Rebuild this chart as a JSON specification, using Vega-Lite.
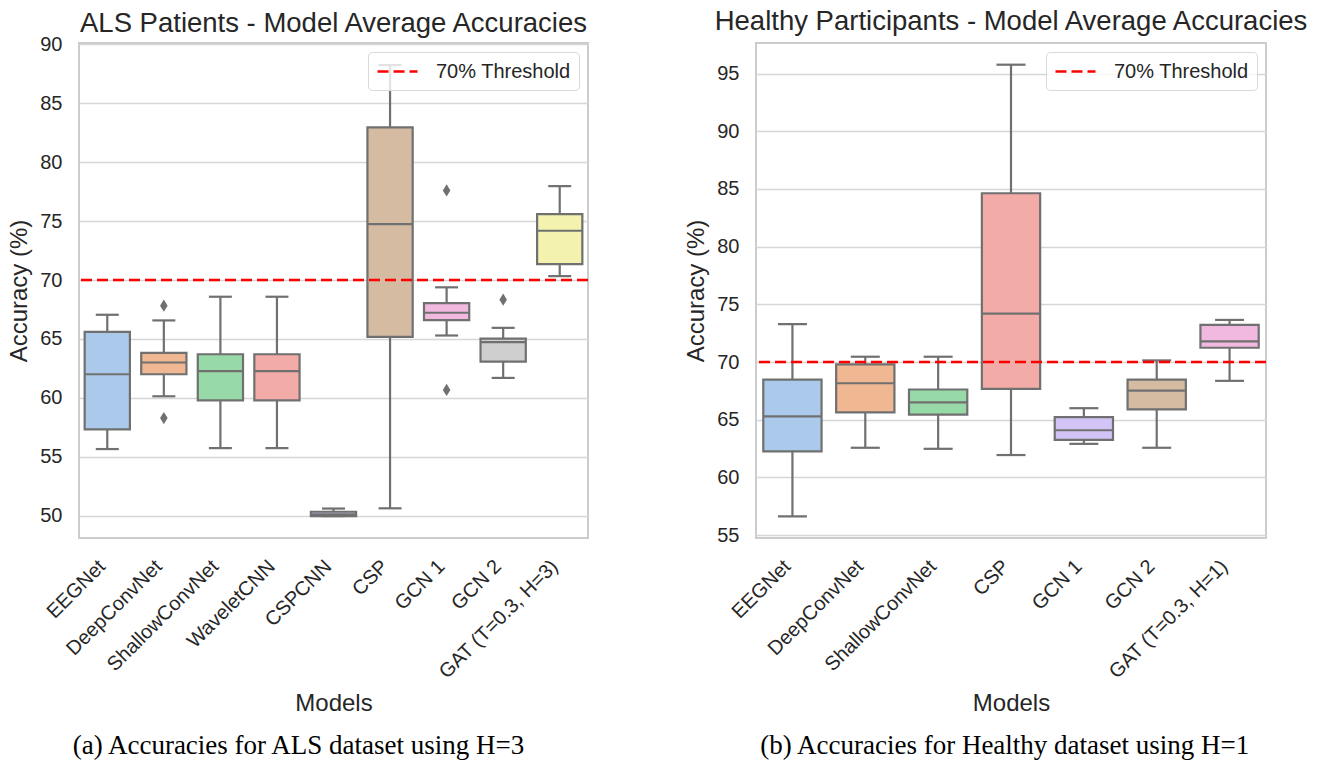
{
  "$schema": "https://vega.github.io/schema/vega-lite/v6.json",
  "padding": {"left": 6, "top": 7, "right": 5, "bottom": 5},
  "background": "white",
  "config": {
    "font": "Liberation Sans",
    "view": {"stroke": "#cccccc", "strokeWidth": 2},
    "title": {"font": "Liberation Sans", "fontSize": 27.5, "fontWeight": "normal", "color": "#262626"},
    "axis": {"labelFont": "Liberation Sans", "labelFontSize": 20, "labelColor": "#262626", "titleFont": "Liberation Sans", "titleFontSize": 24, "titleFontWeight": "normal", "titleColor": "#262626", "domain": false, "ticks": false},
    "axisX": {"labelAngle": -45, "labelAlign": "right", "labelBaseline": "middle", "labelPadding": 25, "labelOffset": -5, "titlePadding": 9, "grid": false},
    "axisY": {"labelPadding": 17, "titlePadding": 8, "grid": true, "gridColor": "#d6d6d6", "gridWidth": 1.5},
    "legend": {"orient": "top-right", "offset": 9, "padding": 8, "fillColor": "rgba(255,255,255,0.8)", "strokeColor": "#d9d9d9", "cornerRadius": 4, "labelFont": "Liberation Sans", "labelFontSize": 20, "labelColor": "#262626", "symbolType": "M-1,0H3", "symbolSize": 400, "symbolStrokeWidth": 2.5, "symbolDash": [11, 5], "labelOffset": 37, "title": null}
  },
  "datasets": {
    "als": [
      {"model": "EEGNet", "lower": 55.65, "q1": 57.32, "median": 62.0, "q3": 65.6, "upper": 67.05},
      {"model": "DeepConvNet", "lower": 60.13, "q1": 62.0, "median": 63.0, "q3": 63.82, "upper": 66.57},
      {"model": "ShallowConvNet", "lower": 55.73, "q1": 59.79, "median": 62.26, "q3": 63.7, "upper": 68.58},
      {"model": "WaveletCNN", "lower": 55.73, "q1": 59.79, "median": 62.26, "q3": 63.7, "upper": 68.58},
      {"model": "CSPCNN", "lower": 49.96, "q1": 49.96, "median": 50.1, "q3": 50.33, "upper": 50.6},
      {"model": "CSP", "lower": 50.62, "q1": 65.18, "median": 74.75, "q3": 82.95, "upper": 88.25},
      {"model": "GCN 1", "lower": 65.29, "q1": 66.6, "median": 67.22, "q3": 68.04, "upper": 69.38},
      {"model": "GCN 2", "lower": 61.69, "q1": 63.08, "median": 64.72, "q3": 65.03, "upper": 65.94},
      {"model": "GAT (T=0.3, H=3)", "lower": 70.33, "q1": 71.35, "median": 74.18, "q3": 75.6, "upper": 77.97}
    ],
    "als_out": [
      {"model": "DeepConvNet", "value": 67.82},
      {"model": "DeepConvNet", "value": 58.28},
      {"model": "GCN 1", "value": 77.6},
      {"model": "GCN 1", "value": 60.67},
      {"model": "GCN 2", "value": 68.33}
    ],
    "healthy": [
      {"model": "EEGNet", "lower": 56.63, "q1": 62.25, "median": 65.29, "q3": 68.48, "upper": 73.28},
      {"model": "DeepConvNet", "lower": 62.57, "q1": 65.64, "median": 68.16, "q3": 69.8, "upper": 70.46},
      {"model": "ShallowConvNet", "lower": 62.48, "q1": 65.44, "median": 66.5, "q3": 67.62, "upper": 70.46},
      {"model": "CSP", "lower": 61.94, "q1": 67.68, "median": 74.2, "q3": 84.63, "upper": 95.77},
      {"model": "GCN 1", "lower": 62.91, "q1": 63.26, "median": 64.09, "q3": 65.23, "upper": 66.0},
      {"model": "GCN 2", "lower": 62.57, "q1": 65.9, "median": 67.53, "q3": 68.48, "upper": 70.14},
      {"model": "GAT (T=0.3, H=1)", "lower": 68.37, "q1": 71.24, "median": 71.79, "q3": 73.22, "upper": 73.65}
    ],
    "threshold": [
      {"accuracy": 70, "label": "70% Threshold"}
    ]
  },
  "spacing": 92,
  "resolve": {"scale": {"x": "independent", "y": "independent", "fill": "independent", "stroke": "independent"}, "legend": {"stroke": "independent"}},
  "hconcat": [
    {
      "title": {"text": "(a) Accuracies for ALS dataset using H=3", "orient": "bottom", "font": "Liberation Serif", "fontSize": 27, "fontWeight": "normal", "color": "black", "offset": 17, "frame": "bounds", "anchor": "middle"},
      "resolve": {"scale": {"stroke": "independent", "fill": "independent"}, "legend": {"stroke": "independent"}},
      "vconcat": [
        {
          "width": 509,
          "height": 495,
          "title": {"text": "ALS Patients - Model Average Accuracies", "offset": -3},
          "layer": [
            {
              "data": {"name": "als"},
              "mark": {"type": "rule", "color": "#707070", "strokeWidth": 2.2},
              "encoding": {
                "x": {"field": "model", "type": "nominal", "title": "Models", "scale": {"domain": ["EEGNet", "DeepConvNet", "ShallowConvNet", "WaveletCNN", "CSPCNN", "CSP", "GCN 1", "GCN 2", "GAT (T=0.3, H=3)"], "paddingInner": 0, "paddingOuter": 0}},
                "y": {"field": "lower", "type": "quantitative", "title": "Accuracy (%)", "scale": {"domain": [48.1, 90.12], "nice": false, "zero": false}, "axis": {"values": [50, 55, 60, 65, 70, 75, 80, 85, 90]}},
                "y2": {"field": "upper"}
              }
            },
            {
              "data": {"name": "als"},
              "mark": {"type": "tick", "color": "#707070", "size": 23, "thickness": 2.2, "opacity": 1},
              "encoding": {
                "x": {"field": "model", "type": "nominal", "title": "Models"},
                "y": {"field": "lower", "type": "quantitative", "title": "Accuracy (%)"}
              }
            },
            {
              "data": {"name": "als"},
              "mark": {"type": "tick", "color": "#707070", "size": 23, "thickness": 2.2, "opacity": 1},
              "encoding": {
                "x": {"field": "model", "type": "nominal", "title": "Models"},
                "y": {"field": "upper", "type": "quantitative", "title": "Accuracy (%)"}
              }
            },
            {
              "data": {"name": "als"},
              "mark": {"type": "bar", "width": {"band": 0.8}, "stroke": "#707070", "strokeWidth": 2.2, "opacity": 1},
              "encoding": {
                "x": {"field": "model", "type": "nominal", "title": "Models"},
                "y": {"field": "q1", "type": "quantitative", "title": "Accuracy (%)"},
                "y2": {"field": "q3"},
                "fill": {"field": "model", "type": "nominal", "legend": null, "scale": {"domain": ["EEGNet", "DeepConvNet", "ShallowConvNet", "WaveletCNN", "CSPCNN", "CSP", "GCN 1", "GCN 2", "GAT (T=0.3, H=3)"], "range": ["#abc9ea", "#efb792", "#98daa7", "#f3aba8", "#d3c4f7", "#d6bba3", "#f1b9e0", "#cfcfcf", "#f3f3af"]}}
              }
            },
            {
              "data": {"name": "als"},
              "mark": {"type": "tick", "color": "#707070", "size": 45, "thickness": 2.2, "opacity": 1},
              "encoding": {
                "x": {"field": "model", "type": "nominal", "title": "Models"},
                "y": {"field": "median", "type": "quantitative", "title": "Accuracy (%)"}
              }
            },
            {
              "data": {"name": "als_out"},
              "mark": {"type": "point", "shape": "M0,-1L0.62,0L0,1L-0.62,0Z", "size": 150, "filled": true, "color": "#707070", "opacity": 1},
              "encoding": {
                "x": {"field": "model", "type": "nominal", "title": "Models"},
                "y": {"field": "value", "type": "quantitative", "title": "Accuracy (%)"}
              }
            },
            {
              "data": {"name": "threshold"},
              "mark": {"type": "rule", "strokeDash": [11, 5], "strokeWidth": 2.5},
              "encoding": {
                "y": {"field": "accuracy", "type": "quantitative", "title": "Accuracy (%)"},
                "stroke": {"field": "label", "type": "nominal", "scale": {"domain": ["70% Threshold"], "range": ["#ff0000"]}, "legend": {"orient": "top-right"}}
              }
            }
          ]
        }
      ]
    },
    {
      "title": {"text": "(b) Accuracies for Healthy dataset using H=1", "orient": "bottom", "font": "Liberation Serif", "fontSize": 27, "fontWeight": "normal", "color": "black", "offset": 17, "frame": "bounds", "anchor": "middle", "dx": 8},
      "resolve": {"scale": {"stroke": "independent", "fill": "independent"}, "legend": {"stroke": "independent"}},
      "vconcat": [
        {
          "width": 510,
          "height": 495,
          "title": {"text": "Healthy Participants - Model Average Accuracies", "offset": 7.5},
          "layer": [
            {
              "data": {"name": "healthy"},
              "mark": {"type": "rule", "color": "#707070", "strokeWidth": 2.2},
              "encoding": {
                "x": {"field": "model", "type": "nominal", "title": "Models", "scale": {"domain": ["EEGNet", "DeepConvNet", "ShallowConvNet", "CSP", "GCN 1", "GCN 2", "GAT (T=0.3, H=1)"], "paddingInner": 0, "paddingOuter": 0}},
                "y": {"field": "lower", "type": "quantitative", "title": "Accuracy (%)", "scale": {"domain": [54.75, 97.65], "nice": false, "zero": false}, "axis": {"values": [55, 60, 65, 70, 75, 80, 85, 90, 95]}},
                "y2": {"field": "upper"}
              }
            },
            {
              "data": {"name": "healthy"},
              "mark": {"type": "tick", "color": "#707070", "size": 29, "thickness": 2.2, "opacity": 1},
              "encoding": {
                "x": {"field": "model", "type": "nominal", "title": "Models"},
                "y": {"field": "lower", "type": "quantitative", "title": "Accuracy (%)"}
              }
            },
            {
              "data": {"name": "healthy"},
              "mark": {"type": "tick", "color": "#707070", "size": 29, "thickness": 2.2, "opacity": 1},
              "encoding": {
                "x": {"field": "model", "type": "nominal", "title": "Models"},
                "y": {"field": "upper", "type": "quantitative", "title": "Accuracy (%)"}
              }
            },
            {
              "data": {"name": "healthy"},
              "mark": {"type": "bar", "width": {"band": 0.8}, "stroke": "#707070", "strokeWidth": 2.2, "opacity": 1},
              "encoding": {
                "x": {"field": "model", "type": "nominal", "title": "Models"},
                "y": {"field": "q1", "type": "quantitative", "title": "Accuracy (%)"},
                "y2": {"field": "q3"},
                "fill": {"field": "model", "type": "nominal", "legend": null, "scale": {"domain": ["EEGNet", "DeepConvNet", "ShallowConvNet", "CSP", "GCN 1", "GCN 2", "GAT (T=0.3, H=1)"], "range": ["#abc9ea", "#efb792", "#98daa7", "#f3aba8", "#d3c4f7", "#d6bba3", "#f1b9e0"]}}
              }
            },
            {
              "data": {"name": "healthy"},
              "mark": {"type": "tick", "color": "#707070", "size": 58, "thickness": 2.2, "opacity": 1},
              "encoding": {
                "x": {"field": "model", "type": "nominal", "title": "Models"},
                "y": {"field": "median", "type": "quantitative", "title": "Accuracy (%)"}
              }
            },
            {
              "data": {"name": "threshold"},
              "mark": {"type": "rule", "strokeDash": [11, 5], "strokeWidth": 2.5},
              "encoding": {
                "y": {"field": "accuracy", "type": "quantitative", "title": "Accuracy (%)"},
                "stroke": {"field": "label", "type": "nominal", "scale": {"domain": ["70% Threshold"], "range": ["#ff0000"]}, "legend": {"orient": "top-right"}}
              }
            }
          ]
        }
      ]
    }
  ]
}
